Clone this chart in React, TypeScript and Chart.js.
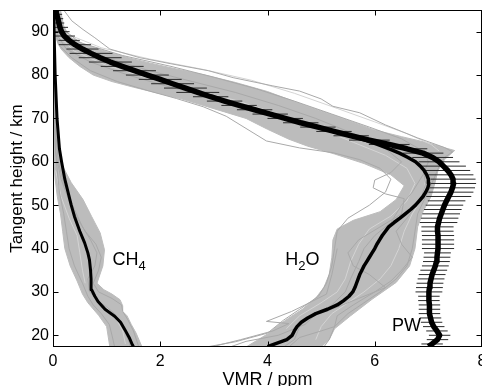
import React, { useEffect, useRef } from 'react';
import { Chart, registerables } from 'chart.js';

Chart.register(...registerables);

const FONT = '"Liberation Sans", Arial, Helvetica, sans-serif';

// ---- axes ----
const xTicks = [0, 2, 4, 6, 8];
const yTicks = [20, 30, 40, 50, 60, 70, 80, 90];
const xRange = [0, 8];
const yRange = [17.3, 95];

// ---- PW retrieval (tangent heights, VMR, error half-width) ----
const pwHeights = [17.4, 18, 19, 20, 21, 22, 23, 24, 25, 26, 27, 28, 29, 30, 31, 32, 33, 34, 35, 36, 37, 38, 39, 40, 41, 42, 43, 44, 45, 46, 47, 48, 49, 50, 51, 52, 53, 54, 55, 56, 57, 58, 59, 60, 61, 62, 63, 64, 65, 66, 67, 68, 69, 70, 71, 72, 73, 74, 75, 76, 77, 78, 79, 80, 81, 82, 83, 84, 85, 86, 87, 88, 89, 90, 91, 92, 93, 94, 95];
const pwValues = [7.0, 7.07, 7.17, 7.21, 7.16, 7.1, 7.06, 7.04, 7.02, 7.02, 7.02, 7.01, 7.01, 7.01, 7.02, 7.03, 7.05, 7.07, 7.1, 7.13, 7.15, 7.16, 7.17, 7.18, 7.18, 7.18, 7.18, 7.17, 7.17, 7.19, 7.21, 7.24, 7.27, 7.3, 7.34, 7.38, 7.42, 7.45, 7.47, 7.46, 7.42, 7.36, 7.28, 7.2, 7.08, 6.9, 6.6, 6.27, 5.9, 5.56, 5.24, 4.94, 4.62, 4.33, 4.05, 3.76, 3.47, 3.2, 2.94, 2.7, 2.47, 2.23, 2.0, 1.76, 1.52, 1.29, 1.07, 0.88, 0.71, 0.55, 0.41, 0.3, 0.21, 0.16, 0.13, 0.11, 0.09, 0.07, 0.06];
const pwErrors = [0.25, 0.2, 0.2, 0.2, 0.2, 0.2, 0.2, 0.2, 0.2, 0.2, 0.2, 0.2, 0.2, 0.25, 0.25, 0.25, 0.25, 0.25, 0.25, 0.25, 0.25, 0.25, 0.25, 0.3, 0.3, 0.3, 0.3, 0.3, 0.3, 0.35, 0.35, 0.35, 0.35, 0.35, 0.35, 0.42, 0.42, 0.42, 0.42, 0.42, 0.42, 0.42, 0.42, 0.38, 0.38, 0.38, 0.38, 0.38, 0.38, 0.33, 0.33, 0.33, 0.33, 0.33, 0.33, 0.33, 0.33, 0.33, 0.33, 0.4, 0.4, 0.4, 0.4, 0.4, 0.4, 0.4, 0.4, 0.4, 0.4, 0.3, 0.3, 0.2, 0.2, 0.15, 0.15, 0.1, 0.1, 0.1, 0.1];

// ---- H2O mean profile ----
const h2oMeanHeights = [17.4, 18, 19, 20, 21, 22, 23, 24, 25, 26, 27, 28, 29, 30, 31, 32, 33, 34, 35, 36, 37, 38, 39, 40, 41, 42, 43, 44, 45, 46, 47, 48, 49, 50, 51, 52, 53, 54, 55, 56, 57, 58, 59, 60, 61, 62, 63, 64, 65, 66, 67, 68, 69, 70, 71, 72, 73, 74, 75, 76, 77, 78, 79, 80, 81, 82, 83, 84, 85, 86, 87, 88, 89, 90, 91, 92, 93, 94, 95];
const h2oMeanValues = [4.0, 4.14, 4.36, 4.46, 4.5, 4.55, 4.63, 4.75, 4.9, 5.12, 5.3, 5.42, 5.52, 5.59, 5.63, 5.66, 5.69, 5.72, 5.76, 5.8, 5.85, 5.9, 5.95, 6.0, 6.04, 6.09, 6.14, 6.2, 6.26, 6.36, 6.47, 6.57, 6.67, 6.76, 6.83, 6.9, 6.95, 6.99, 7.01, 7.0, 6.97, 6.92, 6.85, 6.76, 6.62, 6.46, 6.27, 6.05, 5.82, 5.54, 5.24, 4.94, 4.62, 4.33, 4.05, 3.76, 3.47, 3.2, 2.94, 2.7, 2.47, 2.23, 2.0, 1.76, 1.52, 1.29, 1.07, 0.88, 0.71, 0.55, 0.41, 0.3, 0.21, 0.16, 0.13, 0.11, 0.09, 0.07, 0.06];

// ---- CH4 mean profile ----
const ch4MeanHeights = [17.4, 17.8, 19.5, 21.3, 23, 24.4, 26, 27.8, 29, 30.5, 33, 35, 37.4, 39, 41.3, 44, 47.4, 50, 53, 56, 60, 63, 70, 80, 90, 95];
const ch4MeanValues = [1.5, 1.48, 1.42, 1.34, 1.26, 1.15, 0.97, 0.84, 0.78, 0.72, 0.71, 0.7, 0.68, 0.65, 0.59, 0.5, 0.4, 0.34, 0.28, 0.22, 0.16, 0.12, 0.075, 0.04, 0.02, 0.01];

// ---- ensemble envelopes [VMR, height] ----
const h2oEnvelope = [
  [0.02, 95], [0.04, 91], [0.07, 88], [0.15, 86], [0.3, 84], [0.5, 82], [0.75, 80], [1.1, 78.5], [1.5, 77.2], [1.9, 76], [2.4, 74.5], [2.8, 73], [3.2, 71.5], [3.6, 70], [4.0, 67.5], [4.4, 65.2], [4.75, 63.6], [5.25, 61.8], [5.8, 59.6], [6.3, 57], [6.55, 54.5], [6.4, 51.3], [6.1, 48.5], [5.6, 46.5], [5.3, 44.5], [5.22, 42], [5.2, 38], [5.15, 34], [5.05, 31], [4.9, 28.6], [4.65, 26], [4.4, 24], [4.2, 22.3], [4.0, 20.3], [3.8, 18.8], [3.6, 17.3],
  [5.0, 17.3], [5.15, 19], [5.25, 21.5], [5.55, 24.5], [5.95, 28.3], [6.4, 32.2], [6.65, 36], [6.75, 40], [6.8, 45], [6.9, 48.5], [7.05, 52], [7.12, 55], [7.18, 58], [7.3, 60.5], [7.49, 62.6], [7.2, 63.6], [6.98, 64.4], [6.5, 65.8], [5.98, 67.4], [5.4, 70], [4.74, 72.8], [4.0, 76.2], [3.4, 78.3], [2.8, 80.1], [2.3, 81.4], [1.8, 82.8], [1.4, 84], [1.0, 85.4], [0.6, 87], [0.31, 88.8], [0.2, 91.3], [0.14, 95],
];
const ch4Envelope = [
  [0.0, 95], [0.0, 64], [0.02, 60], [0.04, 56], [0.08, 52], [0.14, 48], [0.18, 44], [0.22, 40], [0.32, 36], [0.45, 32.5], [0.55, 29.5], [0.65, 27.5], [0.85, 24.6], [1.0, 22], [1.06, 17.3],
  [1.66, 17.3], [1.55, 20.5], [1.46, 22.5], [1.38, 24.5], [1.3, 25.5], [1.3, 26.8], [1.25, 28.2], [1.1, 29.5], [0.95, 30.5], [0.82, 32], [0.93, 36], [0.96, 39.7], [0.88, 43.6], [0.72, 47.4], [0.56, 51.3], [0.34, 55.2], [0.18, 59], [0.1, 62.8], [0.05, 70], [0.03, 95],
];

// ---- individual ensemble members [VMR, height] ----
const h2oMember1 = [[0.2, 95], [0.35, 92.5], [0.56, 90.5], [0.78, 88.6], [1.06, 86], [1.62, 84], [2.2, 82.6], [2.9, 81], [3.36, 79.4], [4.1, 77.5], [4.6, 76.3], [5.0, 74.5], [5.22, 72.8], [5.72, 71.3], [6.2, 68.5], [6.8, 65.5], [7.3, 63.3], [7.45, 62.3], [7.3, 61], [7.2, 59], [7.1, 56], [6.95, 52], [6.8, 48], [6.75, 44], [6.7, 40], [6.6, 36], [6.4, 33], [6.1, 30], [5.8, 27.5], [5.5, 25], [5.25, 22], [5.15, 19], [5.05, 17.3]];
const h2oMember2 = [[0.03, 95], [0.05, 90], [0.1, 87], [0.35, 84], [0.7, 81], [1.2, 78.5], [1.8, 76.3], [2.3, 74.6], [2.8, 72.7], [3.23, 70.5], [3.73, 66.7], [3.98, 64.8], [4.6, 63.2], [5.22, 62.1], [5.72, 60.5], [6.1, 58.5], [6.3, 56], [6.2, 53], [5.9, 50], [5.5, 47], [5.3, 44], [5.25, 40], [5.2, 36], [5.1, 32], [4.95, 29], [4.6, 26], [4.3, 23.5], [4.0, 20.5], [3.4, 18.5], [2.86, 17.3]];
const h2oMember3 = [[0.08, 95], [0.12, 90], [0.4, 87], [1.0, 84], [1.8, 81], [2.6, 78.5], [3.4, 76], [4.2, 73], [4.9, 70], [5.6, 66.5], [6.2, 63], [6.5, 60], [6.3, 57.5], [6.0, 55.8], [5.97, 54], [6.2, 52.6], [6.55, 51.5], [6.5, 48], [6.1, 45], [5.7, 42], [5.5, 39], [5.6, 36], [5.9, 34], [6.2, 31], [5.7, 28.5], [5.2, 26], [4.8, 24.5], [4.6, 22], [4.5, 19], [4.3, 17.3]];
const h2oMember4 = [[0.1, 95], [0.15, 91], [0.5, 87.5], [1.3, 84.5], [2.2, 82], [3.0, 79.5], [3.8, 76.8], [4.5, 74], [5.2, 71], [5.9, 68], [6.5, 65.3], [6.9, 62.5], [7.0, 60], [6.9, 57], [6.7, 53], [6.5, 50], [6.3, 46], [6.0, 43], [5.8, 40], [5.7, 37], [5.55, 33], [5.45, 30], [5.2, 27], [4.9, 24.8], [4.7, 22.5], [4.2, 20], [3.6, 18.6], [3.3, 17.3]];
const h2oMember5 = [[0.05, 95], [0.09, 89], [0.25, 86], [0.7, 83], [1.4, 80], [2.1, 77.5], [2.9, 75], [3.7, 72], [4.5, 69.5], [5.3, 66.8], [6.0, 64.2], [6.6, 61.5], [6.9, 58.5], [6.95, 55], [6.85, 51], [6.6, 47], [6.4, 44], [6.5, 41], [6.7, 38], [6.5, 35], [6.3, 32.5], [6.0, 30], [5.6, 27], [5.3, 24.5], [5.25, 22], [5.0, 21], [4.6, 19.5], [4.4, 17.3]];
const h2oMember6 = [[5.3, 40], [5.2, 34], [5.1, 29.5], [4.7, 27], [4.45, 25.5], [3.98, 23.2], [4.4, 22.7], [4.1, 21], [3.5, 19], [2.95, 17.3]];
const ch4Member1 = [[0.0, 95], [0.01, 75], [0.05, 62], [0.15, 56], [0.3, 51], [0.45, 47], [0.6, 44], [0.8, 41], [0.9, 38], [0.85, 35], [0.75, 32], [0.85, 30], [1.1, 28.5], [1.28, 27], [1.3, 25.5], [1.4, 23.5], [1.5, 21], [1.6, 17.3]];
const ch4Member2 = [[0.01, 95], [0.02, 75], [0.04, 64], [0.08, 58], [0.12, 53], [0.2, 48], [0.25, 44], [0.3, 40], [0.4, 36], [0.55, 32], [0.65, 29], [0.75, 27], [0.9, 25], [1.05, 22.5], [1.1, 20], [1.15, 17.3]];
const ch4Member3 = [[0.02, 95], [0.03, 70], [0.1, 60], [0.2, 55], [0.4, 49], [0.55, 45], [0.7, 42], [0.82, 39], [0.78, 36], [0.65, 33], [0.68, 30], [0.9, 27.5], [1.15, 25], [1.3, 22], [1.4, 19], [1.45, 17.3]];

// ---- light gaps between ensemble members [VMR, height] ----
const h2oGap1 = [[0.1, 89], [0.4, 85.5], [1.0, 82.2], [1.8, 79.2], [2.6, 76.6], [3.4, 74.2], [4.2, 71], [5.0, 67.5], [5.6, 64.5], [6.2, 61.5], [6.6, 58.5], [6.75, 55], [6.6, 51], [6.3, 47.5], [5.9, 44.5], [5.7, 41], [5.55, 37], [5.45, 33], [5.3, 30], [5.0, 27.5], [4.6, 24.5], [4.35, 21.5]];
const h2oGap2 = [[0.25, 89.5], [0.9, 86.3], [1.8, 83.7], [2.8, 81.3], [3.7, 78.8], [4.5, 75.8], [5.3, 72.3], [6.0, 69.2], [6.6, 66.5], [7.05, 64], [7.2, 62.5]];
const h2oGap3 = [[6.95, 56], [6.9, 52], [6.7, 48], [6.55, 44], [6.45, 40], [6.3, 36], [6.1, 33], [5.8, 30], [5.5, 27.5], [5.2, 25], [5.0, 22], [4.9, 19]];
const ch4Gap1 = [[0.05, 58], [0.15, 52], [0.3, 47], [0.45, 43], [0.5, 39], [0.55, 35], [0.6, 32]];
const ch4Gap2 = [[0.7, 30], [0.95, 27], [1.15, 24.5], [1.3, 21], [1.35, 18]];

// ---- in-plot labels (data coordinates) ----
const plotLabels = [
  { main: 'CH', sub: '4', tail: '', x: 1.11, y: 36.3 },
  { main: 'H', sub: '2', tail: 'O', x: 4.33, y: 36.3 },
  { main: 'PW', sub: '', tail: '', x: 6.32, y: 21.1 },
];

const toXY = (vals: number[], hs: number[]) => vals.map((v, i) => ({ x: v, y: hs[i] }));
const pairsXY = (p: number[][]) => p.map(([x, y]) => ({ x, y }));

const GRAY_LINE = '#a9a9a9';
const GRAY_FILL = '#bcbcbc';
const GAP_LINE = '#d4d4d4';

const framePlugin = {
  id: 'frameTicksLabels',
  afterDatasetsDraw(chart: any) {
    const { ctx, chartArea: a, scales } = chart;
    const xs = scales.x;
    const ys = scales.y;
    ctx.save();
    ctx.strokeStyle = '#000';
    ctx.lineWidth = 1;
    const L = Math.round(a.left) + 0.5;
    const R = Math.round(a.right) - 0.5;
    const T = Math.round(a.top) + 0.5;
    const B = Math.round(a.bottom) - 0.5;
    ctx.strokeRect(L, T, R - L, B - T);
    const tl = 5;
    ctx.beginPath();
    for (const v of xTicks) {
      const px = Math.round(xs.getPixelForValue(v)) + 0.5;
      ctx.moveTo(px, B); ctx.lineTo(px, B - tl);
      ctx.moveTo(px, T); ctx.lineTo(px, T + tl);
    }
    for (const v of yTicks) {
      const py = Math.round(ys.getPixelForValue(v)) + 0.5;
      ctx.moveTo(L, py); ctx.lineTo(L + tl, py);
      ctx.moveTo(R, py); ctx.lineTo(R - tl, py);
    }
    ctx.stroke();

    ctx.fillStyle = '#000';
    ctx.textBaseline = 'alphabetic';
    ctx.textAlign = 'left';
    for (const lab of plotLabels) {
      let px = xs.getPixelForValue(lab.x);
      const py = ys.getPixelForValue(lab.y);
      ctx.font = `18px ${FONT}`;
      ctx.fillText(lab.main, px, py);
      px += ctx.measureText(lab.main).width;
      if (lab.sub) {
        ctx.font = `13px ${FONT}`;
        ctx.fillText(lab.sub, px, py + 5);
        px += ctx.measureText(lab.sub).width;
      }
      if (lab.tail) {
        ctx.font = `18px ${FONT}`;
        ctx.fillText(lab.tail, px, py);
      }
    }
    ctx.restore();
  },
};

export default function App() {
  const ref = useRef<HTMLCanvasElement | null>(null);

  useEffect(() => {
    if (!ref.current) return;
    const line = (data: any[], extra: any) => ({
      data,
      showLine: true,
      pointRadius: 0,
      pointHoverRadius: 0,
      tension: 0,
      fill: false,
      clip: 0,
      borderJoinStyle: 'round',
      borderCapStyle: 'butt',
      ...extra,
    });

    const errData: any[] = [];
    pwHeights.forEach((h, i) => {
      errData.push({ x: pwValues[i] - pwErrors[i], y: h });
      errData.push({ x: pwValues[i] + pwErrors[i], y: h });
      errData.push({ x: null, y: null });
    });

    const grayMembers = [h2oMember1, h2oMember2, h2oMember3, h2oMember4, h2oMember5, h2oMember6, ch4Member1, ch4Member2, ch4Member3];
    const gapLines = [h2oGap1, h2oGap2, h2oGap3, ch4Gap1, ch4Gap2];

    const datasets: any[] = [
      line(toXY(pwValues, pwHeights), { borderColor: '#000', borderWidth: 5.5, order: 0 }),
      line(toXY(h2oMeanValues, h2oMeanHeights), { borderColor: '#000', borderWidth: 3.5, order: 0 }),
      line(toXY(ch4MeanValues, ch4MeanHeights), { borderColor: '#000', borderWidth: 3, order: 0 }),
      line(errData, { borderColor: '#2a2a2a', borderWidth: 1, order: 1, spanGaps: false }),
      ...grayMembers.map((m) => line(pairsXY(m), { borderColor: GRAY_LINE, borderWidth: 1, order: 2 })),
      ...gapLines.map((m) => line(pairsXY(m), { borderColor: GAP_LINE, borderWidth: 1, order: 2.5 })),
      line(pairsXY(h2oEnvelope), { borderColor: GRAY_FILL, borderWidth: 1, backgroundColor: GRAY_FILL, fill: 'shape', order: 3 }),
      line(pairsXY(ch4Envelope), { borderColor: GRAY_FILL, borderWidth: 1, backgroundColor: GRAY_FILL, fill: 'shape', order: 3 }),
    ];

    const chart = new Chart(ref.current, {
      type: 'scatter',
      data: { datasets },
      plugins: [framePlugin],
      options: {
        indexAxis: 'y',
        responsive: false,
        devicePixelRatio: 1,
        animation: false,
        events: [],
        layout: { padding: { left: 0, right: 0, top: 10, bottom: 0 } },
        plugins: { legend: { display: false }, tooltip: { enabled: false } },
        scales: {
          x: {
            type: 'linear',
            position: 'bottom',
            min: xRange[0],
            max: xRange[1],
            afterBuildTicks: (s: any) => { s.ticks = xTicks.map((v) => ({ value: v })); },
            afterFit: (s: any) => { s.height = 39; s.paddingLeft = 0; s.paddingRight = 0; },
            grid: { display: false, drawTicks: false },
            border: { display: false },
            ticks: { color: '#000', font: { size: 16, family: FONT }, padding: 5, maxRotation: 0, autoSkip: false },
            title: { display: true, text: 'VMR / ppm', color: '#000', font: { size: 18, family: FONT, lineHeight: 0.667 }, padding: { top: 0, bottom: 0 } },
          },
          y: {
            type: 'linear',
            position: 'left',
            min: yRange[0],
            max: yRange[1],
            afterBuildTicks: (s: any) => { s.ticks = yTicks.map((v) => ({ value: v })); },
            afterFit: (s: any) => { s.width = 53; s.paddingTop = 0; s.paddingBottom = 0; },
            grid: { display: false, drawTicks: false },
            border: { display: false },
            ticks: { color: '#000', font: { size: 16, family: FONT }, padding: 4, autoSkip: false },
            title: { display: true, text: 'Tangent height / km', color: '#000', font: { size: 17, family: FONT }, padding: { top: 7, bottom: 0 } },
          },
        },
      } as any,
    });
    return () => chart.destroy();
  }, []);

  return (
    <div style={{ position: 'fixed', left: 0, top: 0, width: 482, height: 386, background: '#fff' }}>
      <canvas ref={ref} width={482} height={386} style={{ display: 'block', width: 482, height: 386 }} />
    </div>
  );
}
